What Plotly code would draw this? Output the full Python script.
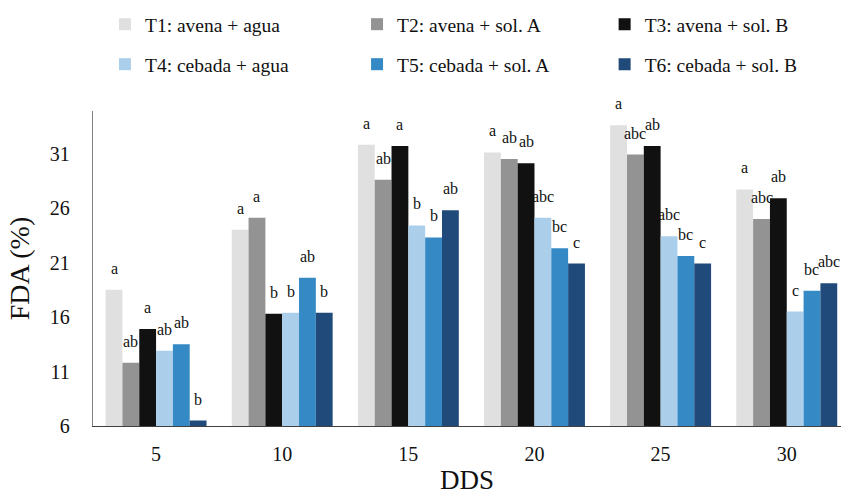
import plotly.graph_objects as go

categories = ["5", "10", "15", "20", "25", "30"]
series_names = [
    "T1: avena + agua",
    "T2: avena + sol. A",
    "T3: avena + sol. B",
    "T4: cebada + agua",
    "T5: cebada + sol. A",
    "T6: cebada + sol. B",
]
t1 = [18.5, 24.0, 31.8, 31.1, 33.6, 27.7]
t2 = [11.8, 25.1, 28.6, 30.5, 30.9, 25.0]
t3 = [14.9, 16.3, 31.7, 30.1, 31.7, 26.9]
t4 = [12.9, 16.4, 24.4, 25.1, 23.4, 16.5]
t5 = [13.5, 19.6, 23.3, 22.3, 21.6, 18.4]
t6 = [6.5, 16.4, 25.8, 20.9, 20.9, 19.1]
series_values = [t1, t2, t3, t4, t5, t6]

l1 = ["a", "a", "a", "a", "a", "a"]
l2 = ["ab", "a", "ab", "ab", "abc", "abc"]
l3 = ["a", "b", "a", "ab", "ab", "ab"]
l4 = ["ab", "b", "b", "abc", "abc", "c"]
l5 = ["ab", "ab", "b", "bc", "bc", "bc"]
l6 = ["b", "b", "ab", "c", "c", "abc"]
series_letters = [l1, l2, l3, l4, l5, l6]

y_ticks = [6, 11, 16, 21, 26, 31]

colors = ["#e0e0e0", "#939393", "#111111", "#abcfeb", "#3589c4", "#1f4a7a"]

FONT = "Liberation Serif"
BARGAP = 0.2
n = len(series_names)
w = (1 - BARGAP) / n

# legend layout: 3 columns x 2 rows, one legend per entry
legend_ids = ["legend", "legend2", "legend3", "legend4", "legend5", "legend6"]
legend_x = [0.016, 0.353, 0.684]
legend_y = [1.3365, 1.2095]

fig = go.Figure()
for i, (name, vals) in enumerate(zip(series_names, series_values)):
    fig.add_trace(go.Bar(
        x=categories, y=vals, name=name,
        marker=dict(color=colors[i], line=dict(width=0)),
        legend=legend_ids[i], showlegend=True,
    ))

annotations = []
for i, (vals, lets) in enumerate(zip(series_values, series_letters)):
    off = -(1 - BARGAP) / 2 + w * (i + 0.5)
    for j, (v, t) in enumerate(zip(vals, lets)):
        annotations.append(dict(
            x=j + off, y=v, xref="x", yref="y", text=t, showarrow=False,
            yanchor="bottom", yshift=11, font=dict(family=FONT, size=16, color="#111"),
        ))

legends = {}
for i, lid in enumerate(legend_ids):
    legends[lid] = dict(
        orientation="h", x=legend_x[i % 3], y=legend_y[i // 3],
        xanchor="left", yanchor="top", itemwidth=30,
        font=dict(family=FONT, size=19.5, color="#111"),
        bgcolor="rgba(0,0,0,0)",
    )

fig.update_layout(
    width=841, height=495, showlegend=True,
    margin=dict(l=93, r=0, t=111, b=69, autoexpand=False),
    plot_bgcolor="white", paper_bgcolor="white",
    barmode="group", bargap=BARGAP, bargroupgap=0,
    font=dict(family=FONT, size=19, color="#111"),
    annotations=annotations,
    xaxis=dict(
        type="category", range=[-0.5, 5.43],
        showline=True, linecolor="#404040", linewidth=1.3,
        ticks="", ticklabelstandoff=10, tickfont=dict(family=FONT, size=20, color="#111"),
        title=dict(text="DDS", font=dict(family=FONT, size=27, color="#111"), standoff=8),
        showgrid=False, automargin=False,
    ),
    yaxis=dict(
        range=[6, 34.9], tickvals=y_ticks,
        showline=True, linecolor="#808080", linewidth=1.3,
        ticks="", ticklabelstandoff=18, showgrid=False, zeroline=False,
        tickfont=dict(family=FONT, size=20, color="#111"), automargin=False,
        title=dict(text="FDA (%)", font=dict(family=FONT, size=28, color="#111"), standoff=12),
    ),
    **legends,
)

fig.write_html(
    "out.html",
    config={"displayModeBar": False},
    post_script="document.body.style.margin='0';document.body.style.overflow='hidden';",
)
